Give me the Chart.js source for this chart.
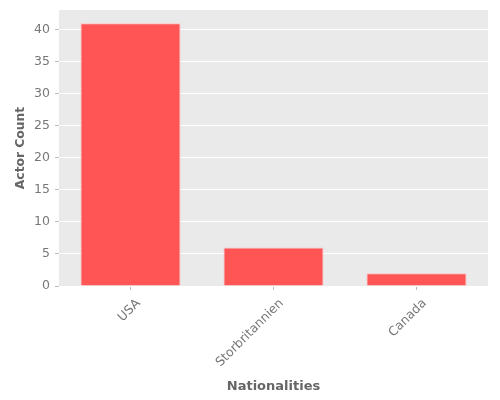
<!DOCTYPE html>
<html><head><meta charset="utf-8">
<script src="https://cdn.jsdelivr.net/npm/chart.js@4"></script>
<style>html,body{margin:0;padding:0;background:#fff}#wrap{width:500px;height:400px}</style>
</head><body><div id="wrap"><canvas id="c" width="500" height="400"></canvas></div>
<script>
const categories = ["USA", "Storbritannien", "Canada"];
const actorCounts = [41, 6, 2];
const yTickValues = [0, 5, 10, 15, 20, 25, 30, 35, 40];
const yMax = 43.05;

const bgPlugin = {
  id: 'bg',
  beforeDraw(chart) {
    const {ctx, chartArea: a} = chart;
    ctx.save();
    ctx.fillStyle = '#EAEAEA';
    ctx.fillRect(a.left, a.top, a.right - a.left, a.bottom - a.top);
    ctx.restore();
  }
};

new Chart(document.getElementById('c'), {
  type: 'bar',
  data: {
    labels: categories,
    datasets: [{
      data: actorCounts,
      backgroundColor: '#FF5555',
      borderColor: 'rgba(255,190,190,0.9)',
      borderWidth: 1,
      barPercentage: 0.7,
      categoryPercentage: 1.0
    }]
  },
  options: {
    responsive: false,
    animation: false,
    devicePixelRatio: 1,
    layout: {padding: {left: 0, right: 12, top: 10, bottom: 0}},
    plugins: {legend: {display: false}, tooltip: {enabled: false}},
    scales: {
      x: {
        offset: true,
        grid: {display: true, drawOnChartArea: false, drawTicks: true, tickLength: 4, tickColor: '#bbbbbb', offset: false},
        border: {display: false},
        ticks: {
          minRotation: 45, maxRotation: 45, padding: 6, labelOffset: 8,
          color: '#777777', font: {family: 'DejaVu Sans', size: 12.5}
        },
        title: {display: true, text: 'Nationalities', color: '#666666',
          font: {family: 'DejaVu Sans', size: 13, weight: 'bold'}, padding: {top: 8, bottom: 6}},
        afterFit(s) { s.height = 114; s.paddingLeft = 0; s.paddingRight = 0; }
      },
      y: {
        min: 0, max: yMax,
        grid: {color: '#ffffff', lineWidth: 1, drawTicks: true, tickLength: 4, tickColor: '#bbbbbb'},
        border: {display: false},
        afterBuildTicks(s) { s.ticks = yTickValues.map(v => ({value: v})); },
        ticks: {color: '#777777', padding: 5, font: {family: 'DejaVu Sans', size: 12.5}},
        title: {display: true, text: 'Actor Count', color: '#666666',
          font: {family: 'DejaVu Sans', size: 12.3, weight: 'bold'}, padding: {top: 13.5, bottom: 4}},
        afterFit(s) { s.width = 59; s.paddingTop = 0; s.paddingBottom = 0; }
      }
    }
  },
  plugins: [bgPlugin]
});
</script></body></html>
